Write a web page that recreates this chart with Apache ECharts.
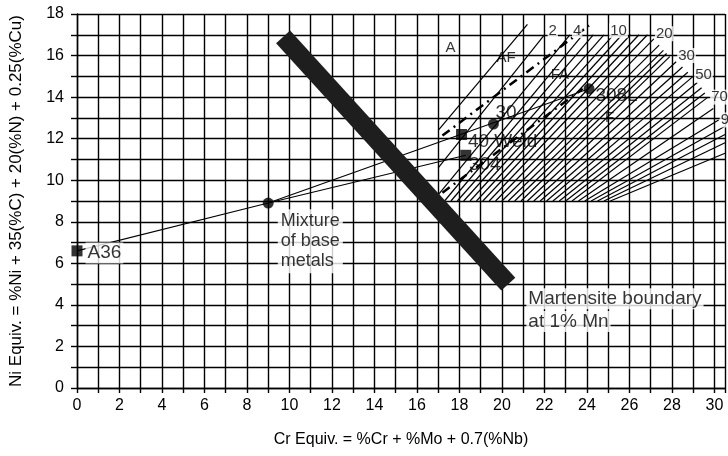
<!DOCTYPE html>
<html><head><meta charset="utf-8">
<script src="https://cdn.jsdelivr.net/npm/echarts@6/dist/echarts.min.js"></script>
<style>html,body{margin:0;padding:0;background:#fff}#c{width:728px;height:456px}</style>
</head><body><div id="c"></div>
<script>
// ---- tick labels ----
const xTickLabels = [0,2,4,6,8,10,12,14,16,18,20,22,24,26,28,30];
const yTickLabels = [0,2,4,6,8,10,12,14,16,18];

// ---- mixing lines (Cr eq, Ni eq) ----
const mixLineBase = [[0,6.6],[9.0,8.9],[18.3,11.2]];
const mixLineWeld = [[9.0,8.9],[24.1,14.4]];

// ---- points ----
const squarePoints = [[0,6.6],[18.1,12.2],[18.3,11.2]];   // A36, 40 Weld, 304
const roundPoints  = [[9.0,8.9],[19.6,12.7],[24.1,14.4]];  // mixture, 30, 308L

// ---- martensite boundary (1% Mn) ----
const martensite = [[9.7,16.9],[20.3,5.0]];

// ---- WRC diagram: solidification-mode boundaries ----
const boundaryA_AF  = [[17.0,12.4],[21.2,17.5]];
const boundaryAF_FA = [[17.2,12.15],[24.1,17.45]];
const boundaryFA_F  = [[17.2,9.4],[23.8,14.4]];

// ---- WRC diagram: iso-ferrite-number lines (lower end, upper end) ----
const fnLower = [[17.0,10.6],[17.0,9.3],[17.3,9],[17.6,9],[17.9,9],[18.2,9],[18.5,9],[18.8,9],[19.1,9],[19.4,9],
  [19.7,9],[20.0,9],[20.3,9],[20.6,9],[20.9,9],[21.2,9],[21.5,9],[21.8,9],[22.1,9],[22.4,9],
  [22.7,9],[23.0,9],[23.3,9],[23.6,9],[23.9,9],[24.2,9],[24.5,9],[24.8,9],[25.1,9]];
const fnUpper = [[22.0,17],[23.2,17],[23.8,17],[24.3,17],[24.8,17],[25.25,17],[25.65,17],[26.05,17],[26.45,17],[26.85,17],
  [27.15,16.8],[27.4,16.5],[27.6,16.25],[27.75,16.1],[27.9,15.95],[28.2,15.7],[28.5,15.45],[28.75,15.2],[29.0,15.0],[29.2,14.7],
  [29.4,14.45],[29.55,14.2],[29.7,14.0],[29.95,13.45],[30.2,12.9],[30.5,12.6],[30.5,12.2],[30.5,11.8],[30.5,11.3]];

// ---- text annotations ----
const bigLabels = [[18.4,11.85,'40 Weld'],[18.45,10.75,'304'],[19.7,13.25,'30'],[24.4,14.05,'308L']];
const boxLabels = [[0.4,6.5,'A36'],[21.15,4.3,'Martensite boundary'],[21.15,3.2,'at 1% Mn']];
const mixtureLabel = [[9.45,8.6,'Mixture\nof base\nmetals']];
const regionLabels = [[17.35,16.35,'A'],[19.75,15.9,'AF'],[22.3,15.05,'FA'],[24.85,13.0,'F']];
const fnLabels = [[22.15,17.2,'2'],[23.3,17.2,'4'],[25.05,17.2,'10'],[27.2,17.05,'20'],[28.25,16.0,'30'],[29.05,15.05,'50'],[29.8,14.0,'70'],[30.25,12.9,'90']];

const FONT = 'Liberation Sans, Arial, Helvetica, sans-serif';
const chart = echarts.init(document.getElementById('c'), null, {renderer:'canvas'});

function lineSeries(data, style, z){
  return {type:'line', data, symbol:'none', silent:true, z:z||2, lineStyle:style, animation:false};
}
function labelSeries(arr, fontSize, extra, z){
  return {type:'scatter', symbolSize:0, silent:true, z:z||10, animation:false,
    data: arr.map(a=>({value:[a[0],a[1]], name:a[2]})),
    label:Object.assign({show:true, position:[0,0], align:'left', verticalAlign:'middle',
      formatter:p=>p.name, color:'#000', fontSize, fontFamily:FONT}, extra||{})};
}

const series = [];
fnLower.forEach((b,i)=>series.push(lineSeries([b, fnUpper[i]], {color:'#000', width:1.2}, 2)));
series.push(lineSeries(boundaryA_AF, {color:'#000', width:1.2}, 3));
series.push(lineSeries(boundaryAF_FA, {color:'#000', width:2.5, type:[9,5,2,5]}, 3));
series.push(lineSeries(boundaryFA_F, {color:'#000', width:2.5, type:[9,5,2,5]}, 3));
series.push(lineSeries(mixLineBase, {color:'#000', width:1.1}, 4));
series.push(lineSeries(mixLineWeld, {color:'#000', width:1.1}, 4));
series.push(lineSeries(martensite, {color:'#1e1e1e', width:19, cap:'butt'}, 5));
series.push({type:'scatter', data:squarePoints, symbol:'rect', symbolSize:11, itemStyle:{color:'#000'}, z:6, silent:true, animation:false});
series.push({type:'scatter', data:roundPoints, symbol:'circle', symbolSize:11, itemStyle:{color:'#000'}, z:6, silent:true, animation:false});
series.push(labelSeries(bigLabels, 19));
series.push(labelSeries(boxLabels, 19, {backgroundColor:'#fff', padding:[1,2,1,2]}));
series.push(labelSeries(mixtureLabel, 18, {backgroundColor:'#fff', verticalAlign:'top', lineHeight:20, padding:[2,3,2,3]}));
series.push(labelSeries(regionLabels, 15));
series.push(labelSeries(fnLabels, 15, {backgroundColor:'#fff', padding:[0,1,0,1]}));

chart.setOption({
  animation:false,
  backgroundColor:'#fff',
  grid:{left:77, right:0, top:14, bottom:68, containLabel:false},
  xAxis:{type:'value', min:0, max:30.5, interval:1,
    name:'Cr Equiv. = %Cr + %Mo + 0.7(%Nb)', nameLocation:'middle', nameGap:44,
    nameTextStyle:{fontSize:16, color:'#000', fontFamily:FONT},
    axisLine:{show:true, onZero:false, lineStyle:{color:'#000', width:1.4}},
    axisTick:{show:true, length:5, lineStyle:{color:'#000', width:1.4}},
    splitLine:{show:true, lineStyle:{color:'#000', width:1.4}},
    axisLabel:{formatter:v=>xTickLabels.includes(v)?String(v):'', fontSize:16, color:'#000', margin:10, fontFamily:FONT, showMaxLabel:true}},
  yAxis:{type:'value', min:0, max:18, interval:1,
    name:'Ni Equiv. = %Ni + 35(%C) + 20(%N) + 0.25(%Cu)', nameLocation:'middle', nameGap:52,
    nameTextStyle:{fontSize:17, color:'#000', fontFamily:FONT},
    axisLine:{show:true, onZero:false, lineStyle:{color:'#000', width:1.4}},
    axisTick:{show:true, length:6, lineStyle:{color:'#000', width:1.4}},
    splitLine:{show:true, lineStyle:{color:'#000', width:1.4}},
    axisLabel:{formatter:v=>yTickLabels.includes(v)?String(v):'', fontSize:16, color:'#000', margin:13, fontFamily:FONT}},
  series
});
</script></body></html>
